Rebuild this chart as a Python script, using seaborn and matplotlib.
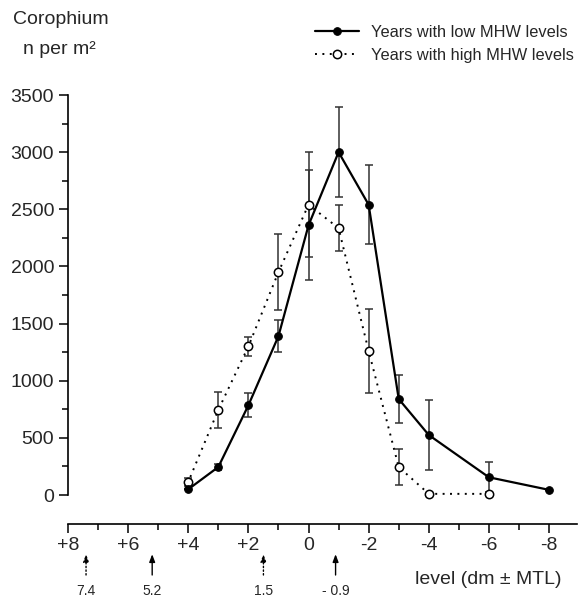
import numpy as np
import pandas as pd
import matplotlib
matplotlib.use('Agg')
import matplotlib.pyplot as plt
import seaborn as sns

# data (level in dm relative to MTL, Corophium n per m2)
levels = [4, 3, 2, 1, 0, -1, -2, -3, -4, -6, -8]
low_mhw = [50, 245, 785, 1390, 2360, 3000, 2540, 840, 525, 155, 45]
low_err = [0, 30, 105, 140, 480, 395, 345, 210, 310, 130, 0]

high_levels = [4, 3, 2, 1, 0, -1, -2, -3, -4, -6]
high_mhw = [115, 745, 1300, 1950, 2540, 2335, 1260, 245, 10, 10]
high_err = [35, 160, 85, 330, 460, 200, 370, 155, 0, 0]

arrow_levels = [7.4, 5.2, 1.5, -0.9]
arrow_labels = ['7.4', '5.2', '1.5', '- 0.9']
arrow_dotted = [True, False, True, False]

x_major = [8, 6, 4, 2, 0, -2, -4, -6, -8]
x_labels = ['+8', '+6', '+4', '+2', '0', '-2', '-4', '-6', '-8']
x_minor = [7, 5, 3, 1, -1, -3, -5, -7]

low_df = pd.DataFrame({'level': levels, 'n': low_mhw, 'err': low_err})
high_df = pd.DataFrame({'level': high_levels, 'n': high_mhw, 'err': high_err})

sns.set_style('ticks')
plt.rcParams['font.family'] = ['Liberation Sans', 'DejaVu Sans']

W, H = 581, 597
fig = plt.figure(figsize=(W / 100, H / 100), dpi=100)
ax = fig.add_axes([68 / W, 1 - 495 / H, (577 - 68) / W, 400 / H])

# error bars
ax.errorbar(low_df['level'], low_df['n'], yerr=low_df['err'], fmt='none',
            ecolor='#333333', elinewidth=1.1, capsize=3, capthick=1.1, zorder=2, clip_on=False)
ax.errorbar(high_df['level'], high_df['n'], yerr=high_df['err'], fmt='none',
            ecolor='#333333', elinewidth=1.1, capsize=3, capthick=1.1, zorder=2, clip_on=False)

sns.lineplot(data=low_df, x='level', y='n', ax=ax, color='black', lw=1.6,
             marker='o', markersize=5.5, markerfacecolor='black', markeredgecolor='black',
             label='Years with low MHW levels', clip_on=False, zorder=4)
sns.lineplot(data=high_df, x='level', y='n', ax=ax, color='black', lw=1.4,
             linestyle=(0, (1, 2.8)), marker='o', markersize=6,
             markerfacecolor='white', markeredgecolor='black', markeredgewidth=1.1,
             label='Years with high MHW levels', clip_on=False, zorder=3)

ax.set_xlim(8, -8.93)
ax.set_ylim(0, 3500)
ax.set_xlabel('')
ax.set_ylabel('')

ax.set_xticks(x_major)
ax.set_xticklabels(x_labels)
ax.set_xticks(x_minor, minor=True)
ax.set_yticks(np.arange(0, 3501, 500))
ax.set_yticks(np.arange(250, 3500, 500), minor=True)

ax.tick_params(axis='both', which='major', direction='out', length=6.5, width=1.1,
               labelsize=14, color='black')
ax.tick_params(axis='both', which='minor', direction='out', length=4, width=1.1, color='black')
ax.tick_params(axis='y', which='major', pad=3.5)
ax.tick_params(axis='x', which='major', pad=3)

sns.despine(ax=ax)
ax.spines['bottom'].set_position(('outward', 21))
for s in ['left', 'bottom']:
    ax.spines[s].set_linewidth(1.2)
    ax.spines[s].set_color('black')

# legend
handles, labels = ax.get_legend_handles_labels()
ax.get_legend().remove()
fig.legend(handles, labels, loc='upper left', bbox_to_anchor=(315 / W, 1 - 25 / H),
           frameon=False, borderpad=0, borderaxespad=0, handlelength=2.7,
           handletextpad=0.7, labelspacing=0.5, fontsize=11.8)

# y axis title
fig.text(13 / W, 1 - 20 / H, 'Corophium', fontsize=14, ha='left', va='center')
fig.text(23 / W, 1 - 49 / H, 'n per m²', fontsize=14, ha='left', va='center')

# arrows below axis
trans = ax.get_xaxis_transform()
for lv, lab, dotted in zip(arrow_levels, arrow_labels, arrow_dotted):
    ax.annotate('', xy=(lv, -0.148), xytext=(lv, -0.2), xycoords=trans, textcoords=trans,
                arrowprops=dict(arrowstyle='-|>,head_length=0.45,head_width=0.17', color='black',
                                lw=1.0, linestyle=':' if dotted else '-', shrinkA=0, shrinkB=0),
                annotation_clip=False)
    ax.text(lv, -0.24, lab, transform=trans, ha='center', va='center', fontsize=10)

ax.text(-3.55, -0.212, 'level (dm ± MTL)', transform=trans, ha='left', va='center', fontsize=14)

fig.savefig('out.png', dpi=100)
